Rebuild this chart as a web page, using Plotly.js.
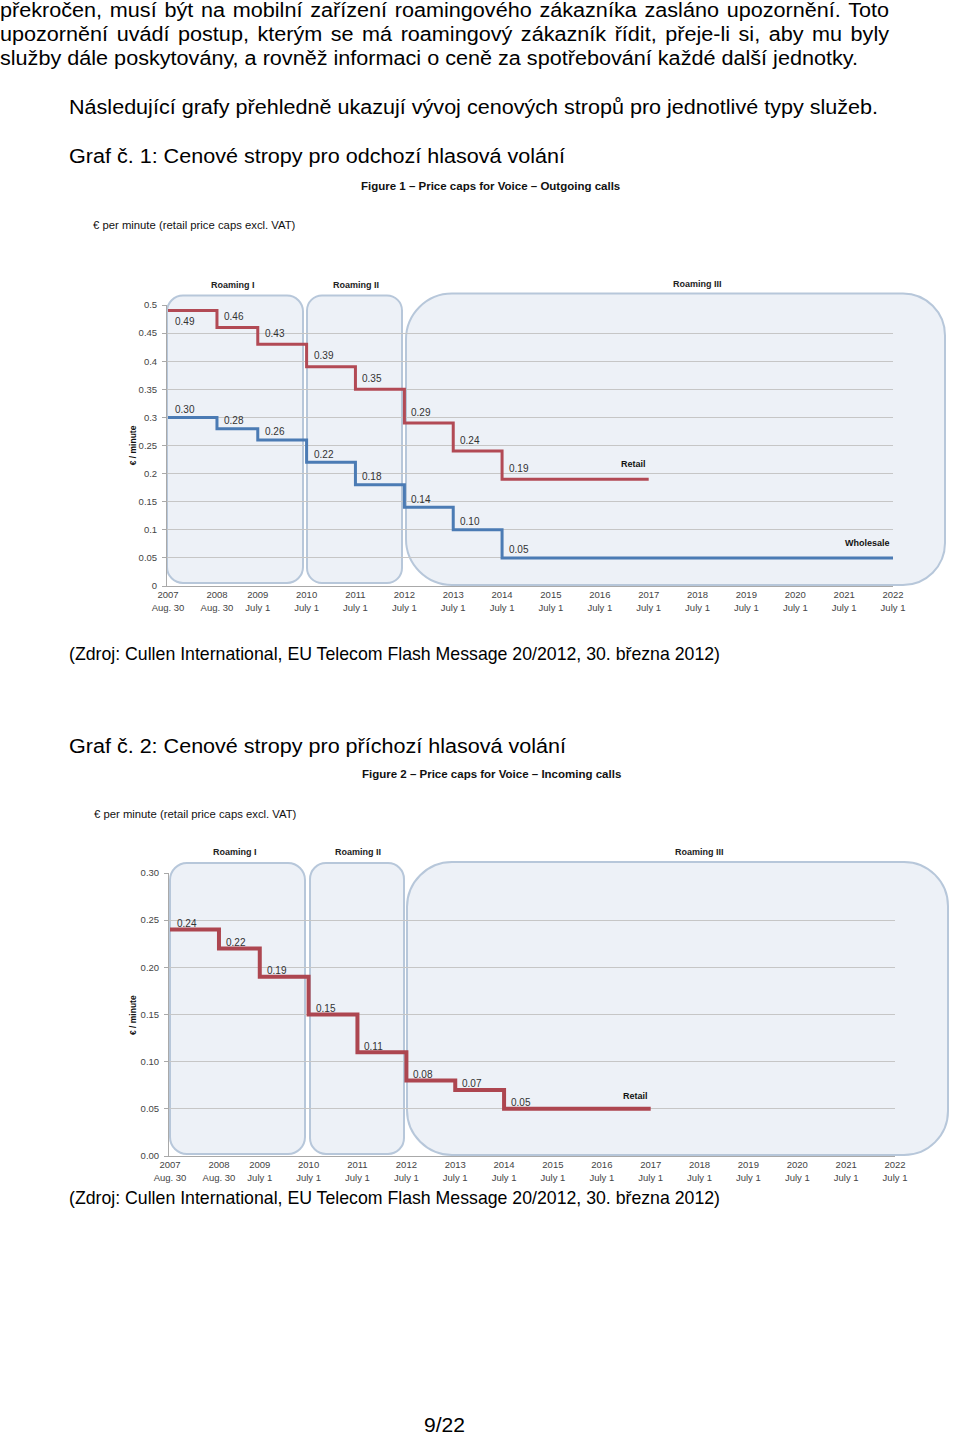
<!DOCTYPE html>
<html>
<head>
<meta charset="utf-8">
<script src="https://cdn.plot.ly/plotly-3.0.1.min.js"></script>
<style>
html,body{margin:0;padding:0;background:#fff;}
body{width:960px;height:1434px;position:relative;overflow:hidden;font-family:'Liberation Sans',Arial,sans-serif;color:#000;}
.t{position:absolute;white-space:nowrap;font-size:20px;line-height:20px;transform-origin:0 0;}
.chart{position:absolute;left:0;width:960px;}
</style>
</head>
<body>
<div class="t" data-x="0" data-b="17" data-w="889" data-j="1">překročen, musí být na mobilní zařízení roamingového zákazníka zasláno upozornění. Toto</div>
<div class="t" data-x="0" data-b="41" data-w="889" data-j="1">upozornění uvádí postup, kterým se má roamingový zákazník řídit, přeje-li si, aby mu byly</div>
<div class="t" data-x="0" data-b="65" data-w="858">služby dále poskytovány, a rovněž informaci o ceně za spotřebování každé další jednotky.</div>
<div class="t" data-x="69" data-b="114" data-w="809">Následující grafy přehledně ukazují vývoj cenových stropů pro jednotlivé typy služeb.</div>
<div class="t" data-x="69" data-b="163" data-w="496">Graf č. 1: Cenové stropy pro odchozí hlasová volání</div>
<div class="t" data-x="69" data-b="661" data-w="651" data-fs="18.5">(Zdroj: Cullen International, EU Telecom Flash Message 20/2012, 30. března 2012)</div>
<div class="t" data-x="69" data-b="753" data-w="497">Graf č. 2: Cenové stropy pro příchozí hlasová volání</div>
<div class="t" data-x="69" data-b="1205" data-w="651" data-fs="18.5">(Zdroj: Cullen International, EU Telecom Flash Message 20/2012, 30. března 2012)</div>
<div class="t" data-x="424" data-b="1432" data-w="41">9/22</div>

<div id="chart1" class="chart" style="top:170px;height:450px;"></div>
<div id="chart2" class="chart" style="top:760px;height:440px;"></div>

<script>
// ---------- data ----------
const stepDates = ['2007-08-30','2008-08-30','2009-07-01','2010-07-01','2011-07-01','2012-07-01','2013-07-01','2014-07-01'];
const retailEnd = '2017-07-01';
const wholesaleEnd = '2022-07-01';
const outgoingRetail = [0.49,0.46,0.43,0.39,0.35,0.29,0.24,0.19];
const outgoingWholesale = [0.30,0.28,0.26,0.22,0.18,0.14,0.10,0.05];
const incomingRetail = [0.24,0.22,0.19,0.15,0.11,0.08,0.07,0.05];
const tickDates = ['2007-08-30','2008-08-30','2009-07-01','2010-07-01','2011-07-01','2012-07-01','2013-07-01','2014-07-01','2015-07-01','2016-07-01','2017-07-01','2018-07-01','2019-07-01','2020-07-01','2021-07-01','2022-07-01'];
const tickYears = ['2007','2008','2009','2010','2011','2012','2013','2014','2015','2016','2017','2018','2019','2020','2021','2022'];
const tickDays = ['Aug. 30','Aug. 30','July 1','July 1','July 1','July 1','July 1','July 1','July 1','July 1','July 1','July 1','July 1','July 1','July 1','July 1'];
const roamingNames = ['Roaming I','Roaming II','Roaming III'];
const seriesNames = ['Retail','Wholesale'];
const fig1Title = 'Figure 1 – Price caps for Voice – Outgoing calls';
const fig2Title = 'Figure 2 – Price caps for Voice – Incoming calls';
const unitNote = '€ per minute (retail price caps excl. VAT)';
const yTitle = '€ / minute';

// ---------- page text fitting ----------
const lines = Array.from(document.querySelectorAll('.t'));
lines.forEach(el => {
  const fs = el.dataset.fs ? +el.dataset.fs : 20;
  el.style.fontSize = fs + 'px';
  el.style.lineHeight = fs + 'px';
  el.style.left = el.dataset.x + 'px';
  el.style.top = (+el.dataset.b - fs * 0.845) + 'px';
});
const baseScaleEl = lines[2];
const baseScale = (+baseScaleEl.dataset.w) / baseScaleEl.getBoundingClientRect().width;
lines.forEach(el => {
  const w = +el.dataset.w;
  if (el.dataset.j) {
    const nat = el.getBoundingClientRect().width * baseScale;
    const spaces = (el.textContent.match(/ /g) || []).length;
    el.style.wordSpacing = ((w - nat) / spaces / baseScale) + 'px';
    el.style.transform = 'scaleX(' + baseScale + ')';
  } else {
    const nat = el.getBoundingClientRect().width;
    el.style.transform = 'scaleX(' + (w / nat) + ')';
  }
});

// ---------- charts ----------
const FONT = 'Liberation Sans, Arial, sans-serif';
const tickText = tickYears.map((y, i) => y + '<br>' + tickDays[i]);

function xRange(c) {
  const t0 = Date.parse(tickDates[0]), t1 = Date.parse(tickDates[tickDates.length - 1]);
  const perMs = (c.R - c.L - 1) / (t1 - t0);
  const start = t0 - 1 / perMs;
  const iso = ms => new Date(ms).toISOString().replace('T', ' ').replace('Z', '');
  return [iso(start), iso(t1)];
}

function roundPath(c, X0, Y0, X1, Y1, rl, rr) {
  const k = 0.5523;
  const P = (X, Y) => ((X - c.L) / (c.R - c.L)).toFixed(5) + ',' + ((c.B - Y) / (c.B - c.T)).toFixed(5);
  return 'M' + P(X0 + rl, Y0) +
    ' L' + P(X1 - rr, Y0) +
    ' C' + P(X1 - rr + k * rr, Y0) + ' ' + P(X1, Y0 + rr - k * rr) + ' ' + P(X1, Y0 + rr) +
    ' L' + P(X1, Y1 - rr) +
    ' C' + P(X1, Y1 - rr + k * rr) + ' ' + P(X1 - rr + k * rr, Y1) + ' ' + P(X1 - rr, Y1) +
    ' L' + P(X0 + rl, Y1) +
    ' C' + P(X0 + rl - k * rl, Y1) + ' ' + P(X0, Y1 - rl + k * rl) + ' ' + P(X0, Y1 - rl) +
    ' L' + P(X0, Y0 + rl) +
    ' C' + P(X0, Y0 + rl - k * rl) + ' ' + P(X0 + rl - k * rl, Y0) + ' ' + P(X0 + rl, Y0) + ' Z';
}

function paperAnn(c, X, Y, text, opts) {
  return Object.assign({
    xref: 'paper', yref: 'paper',
    x: (X - c.L) / (c.R - c.L), y: (c.B - Y) / (c.B - c.T),
    text: text, showarrow: false, xanchor: 'center', yanchor: 'middle',
    font: {family: FONT, size: 9, color: '#111'}
  }, opts || {});
}

function stepTrace(vals, endDate, color, width) {
  return {
    type: 'scatter', mode: 'lines',
    x: stepDates.concat([endDate]),
    y: vals.concat([vals[vals.length - 1]]),
    line: {shape: 'hv', color: color, width: width},
    hoverinfo: 'skip'
  };
}

function valueLabels(vals, shiftY, firstBelow) {
  return vals.map((v, i) => {
    const below = firstBelow && i === 0;
    return {
      xref: 'x', yref: 'y', x: stepDates[i], y: v,
      text: v.toFixed(2), showarrow: false,
      xanchor: 'left', yanchor: below ? 'top' : 'bottom',
      xshift: 5, yshift: below ? -3 : shiftY,
      font: {family: FONT, size: 10, color: '#333'}
    };
  });
}

function buildChart(divId, c) {
  const shapes = c.boxes.map(b => ({
    type: 'path', xref: 'paper', yref: 'paper', layer: 'below',
    path: roundPath(c, b[0], b[1], b[2], b[3], b[4], b[5]),
    fillcolor: '#edf1f7', line: {color: '#b7c7da', width: 2}
  }));
  let anns = [
    paperAnn(c, c.titlePos[0], c.titlePos[1], '<b>' + c.title + '</b>', {font: {family: FONT, size: 11.5, color: '#111'}}),
    paperAnn(c, c.notePos[0], c.notePos[1], unitNote, {xanchor: 'left', font: {family: FONT, size: 11.3, color: '#111'}}),
    paperAnn(c, c.yTitlePos[0], c.yTitlePos[1], '<b>' + yTitle + '</b>', {textangle: -90, font: {family: FONT, size: 8.5, color: '#111'}})
  ];
  roamingNames.forEach((n, i) => anns.push(paperAnn(c, c.roamPos[i][0], c.roamPos[i][1], '<b>' + n + '</b>', {font: {family: FONT, size: 9, color: '#222'}})));
  c.series.forEach(s => {
    anns = anns.concat(valueLabels(s.vals, s.labelShift, s.firstBelow));
    anns.push({
      xref: 'x', yref: 'y', x: s.end, y: s.vals[s.vals.length - 1],
      text: '<b>' + s.name + '</b>', showarrow: false,
      xanchor: 'right', yanchor: 'bottom', xshift: -1, yshift: s.nameShift,
      font: {family: FONT, size: 9, color: '#111'}
    });
  });
  const layout = {
    width: 960, height: c.H,
    margin: {l: c.L, r: 960 - c.R, t: c.T - c.top, b: c.top + c.H - c.B, pad: 0},
    paper_bgcolor: 'rgba(0,0,0,0)', plot_bgcolor: 'rgba(0,0,0,0)',
    showlegend: false,
    xaxis: {
      type: 'date', range: xRange(c), tickmode: 'array', tickvals: tickDates, ticktext: tickText,
      showgrid: false, zeroline: false, showline: true, linecolor: '#a9a9a9', linewidth: 1,
      ticks: '', tickfont: {family: FONT, size: 9.5, color: '#444'}, automargin: false, fixedrange: true
    },
    yaxis: {
      range: c.yRange, tickmode: 'linear', tick0: 0, dtick: 0.05, tickformat: c.yFormat,
      showgrid: true, gridcolor: '#c6c6c6', gridwidth: 1, zeroline: false,
      showline: true, linecolor: '#a9a9a9', linewidth: 1,
      ticks: 'outside', ticklen: 4, tickcolor: '#a9a9a9', ticklabelstandoff: 3,
      tickfont: {family: FONT, size: 9.5, color: '#444'}, automargin: false, fixedrange: true
    },
    shapes: shapes,
    annotations: anns
  };
  const traces = c.series.map(s => stepTrace(s.vals, s.end, s.color, s.width));
  Plotly.newPlot(divId, traces, layout, {displayModeBar: false, staticPlot: true});
}

buildChart('chart1', {
  top: 170, H: 450, L: 167, R: 893, T: 304.5, B: 586,
  yRange: [0, 0.5], yFormat: '',
  title: fig1Title, titlePos: [490, 185], notePos: [91, 224], yTitlePos: [133, 445],
  roamPos: [[233, 284], [356, 284], [697, 283]],
  boxes: [[167, 295, 303, 583, 16, 16], [307, 295, 402, 583, 15, 15], [406, 293, 945, 585, 46, 42]],
  series: [
    {name: seriesNames[0], vals: outgoingRetail, end: retailEnd, color: '#b24a55', width: 3, labelShift: 3.5, firstBelow: true, nameShift: 8},
    {name: seriesNames[1], vals: outgoingWholesale, end: wholesaleEnd, color: '#4b7bb4', width: 3, labelShift: 0.5, firstBelow: false, nameShift: 8}
  ]
});

buildChart('chart2', {
  top: 760, H: 440, L: 169, R: 895, T: 873, B: 1156,
  yRange: [0, 0.30], yFormat: '.2f',
  title: fig2Title, titlePos: [491, 774], notePos: [92, 814], yTitlePos: [133, 1015],
  roamPos: [[235, 852], [358, 852], [699, 852]],
  boxes: [[170, 863, 305, 1154, 17, 17], [310, 863, 404, 1154, 16, 16], [407, 862, 948, 1155, 45, 44]],
  series: [
    {name: seriesNames[0], vals: incomingRetail, end: retailEnd, color: '#ad4650', width: 4, labelShift: -1.5, firstBelow: false, nameShift: 6}
  ]
});
</script>
</body>
</html>
